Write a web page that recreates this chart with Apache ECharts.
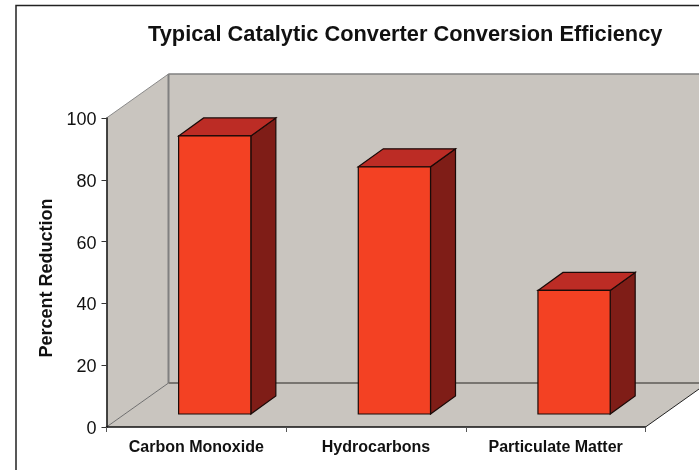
<!DOCTYPE html>
<html>
<head>
<meta charset="utf-8">
<style>
  html, body { margin: 0; padding: 0; background: #fff; }
  #chart { width: 699px; height: 470px; }
</style>
<script src="https://cdn.jsdelivr.net/npm/echarts@6/dist/echarts.min.js"></script>
</head>
<body>
<div id="chart"></div>
<script>
const categories = ['Carbon Monoxide', 'Hydrocarbons', 'Particulate Matter']
const reduction = [90, 80, 40]
const yTicks = { min: 0, max: 100, interval: 20 }

// 3D look: how far the back wall sits from the axes, in px
const wallDx = 62
const wallDy = 44
// bar front face starts this far into the floor, then has its own depth
const barOffsetDx = 18.4
const barOffsetDy = 13
const barDepthDx = 25
const barDepthDy = 18
const barWidthRatio = 0.402

const wallColor = '#C9C5BF'
const faceColor = '#F34123'
const topColor = '#BC2C25'
const sideColor = '#7F1D17'

function poly(points, fill, stroke, lineWidth) {
  return {
    type: 'polygon',
    shape: { points },
    style: { fill, stroke: stroke || null, lineWidth: lineWidth || 0 }
  }
}

function line(a, b, stroke, lineWidth) {
  return {
    type: 'line',
    shape: { x1: a[0], y1: a[1], x2: b[0], y2: b[1] },
    style: { stroke, lineWidth }
  }
}

// walls and floor, taken from the grid rectangle
function renderBackdrop(params) {
  const g = params.coordSys
  const l = g.x, r = g.x + g.width, t = g.y, b = g.y + g.height
  const children = [
    poly([[l + wallDx, t - wallDy], [r + wallDx, t - wallDy], [r + wallDx, b - wallDy], [l + wallDx, b - wallDy]], wallColor),
    poly([[l, t], [l + wallDx, t - wallDy], [l + wallDx, b - wallDy], [l, b]], wallColor),
    poly([[l, b], [l + wallDx, b - wallDy], [r + wallDx, b - wallDy], [r, b]], wallColor),
    line([l, t], [l + wallDx, t - wallDy], '#8a8a8a', 1),
    line([l + wallDx, t - wallDy], [r + wallDx, t - wallDy], '#808080', 1.5),
    line([l + wallDx, t - wallDy], [l + wallDx, b - wallDy], '#808080', 2),
    line([l + wallDx, b - wallDy], [r + wallDx, b - wallDy], '#787570', 2),
    line([l, b], [l + wallDx, b - wallDy], '#6e6e6e', 1),
    line([r, b], [r + wallDx, b - wallDy], '#222', 1)
  ]
  return { type: 'group', children }
}

// one bar: front, top and side faces
function renderBar(params, api) {
  const base = api.coord([api.value(0), 0])
  const top = api.coord([api.value(0), api.value(1)])
  const w = api.size([1, 0])[0] * barWidthRatio
  const x0 = base[0] - w / 2 + barOffsetDx
  const x1 = x0 + w
  const y0 = base[1] - barOffsetDy
  const y1 = top[1] - barOffsetDy
  const edge = '#1a0a08'
  return {
    type: 'group',
    children: [
      poly([[x1, y1], [x1 + barDepthDx, y1 - barDepthDy], [x1 + barDepthDx, y0 - barDepthDy], [x1, y0]], sideColor, edge, 1.2),
      poly([[x0, y1], [x0 + barDepthDx, y1 - barDepthDy], [x1 + barDepthDx, y1 - barDepthDy], [x1, y1]], topColor, edge, 1.2),
      poly([[x0, y1], [x1, y1], [x1, y0], [x0, y0]], faceColor, edge, 1.2)
    ]
  }
}

const chart = echarts.init(document.getElementById('chart'))
chart.setOption({
  animation: false,
  backgroundColor: '#fff',
  textStyle: { fontFamily: '"Liberation Sans", Arial, sans-serif' },
  title: {
    text: 'Typical Catalytic Converter Conversion Efficiency',
    left: 148,
    top: 24,
    padding: 0,
    textStyle: { fontSize: 21.8, fontWeight: 'bold', color: '#111', fontFamily: '"Liberation Sans", Arial, sans-serif' }
  },
  // chart frame, only the left and top edges are inside the picture
  graphic: [{
    type: 'polyline',
    silent: true,
    shape: { points: [[16, 470], [16, 5.5], [699, 5.5]] },
    style: { stroke: '#222', lineWidth: 1.5, fill: null }
  }],
  grid: { left: 106.5, top: 118, width: 539, height: 309 },
  xAxis: {
    type: 'category',
    data: categories,
    z: 5,
    axisLine: { lineStyle: { color: '#111', width: 1.5 } },
    axisTick: { show: true, length: 5, lineStyle: { color: '#555', width: 1 } },
    axisLabel: { margin: 13, fontSize: 16, fontWeight: 'bold', color: '#111' }
  },
  yAxis: {
    type: 'value',
    min: yTicks.min,
    max: yTicks.max,
    interval: yTicks.interval,
    z: 5,
    name: 'Percent Reduction',
    nameLocation: 'middle',
    nameGap: 50,
    nameTextStyle: { fontSize: 18, fontWeight: 'bold', color: '#111', padding: [0, 11, 0, 0] },
    axisLine: { show: true, lineStyle: { color: '#111', width: 1.5 } },
    axisTick: { show: true, length: 5, lineStyle: { color: '#333', width: 1 } },
    axisLabel: {
      margin: 10,
      formatter: v => `{n|${v}}`,
      // rich text, plain padding does not move the label down
      rich: { n: { fontSize: 18, color: '#111', padding: [4, 0, 0, 0] } }
    },
    splitLine: { show: false }
  },
  series: [
    { type: 'custom', silent: true, clip: false, z: 1, renderItem: renderBackdrop, data: [[0, 0]] },
    {
      type: 'custom',
      clip: false,
      z: 2,
      renderItem: renderBar,
      encode: { x: 0, y: 1 },
      data: reduction.map((v, i) => [i, v])
    }
  ]
})
</script>
</body>
</html>
